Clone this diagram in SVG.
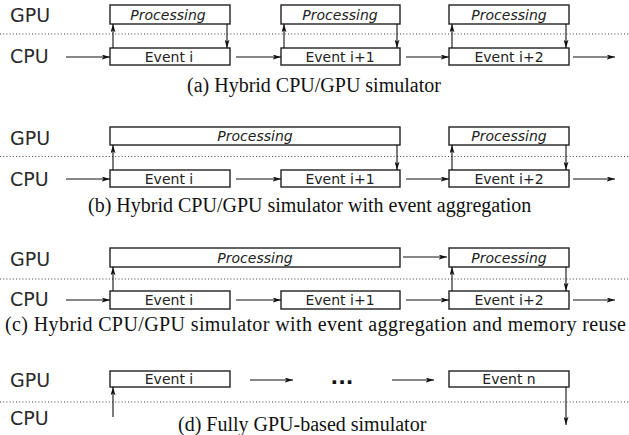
<svg xmlns="http://www.w3.org/2000/svg" width="629" height="435" viewBox="0 0 629 435">
  <style>
    .lane { font-family: "DejaVu Sans", Verdana, sans-serif; font-size: 19px; fill: #2a2a2a; }
    .box { fill: #fff; stroke: #222; stroke-width: 1.4; }
    .proc { font-family: "DejaVu Sans", Verdana, sans-serif; font-size: 14px; font-style: italic; fill: #222; text-anchor: middle; }
    .evt { font-family: "DejaVu Sans", Verdana, sans-serif; font-size: 14px; fill: #222; text-anchor: middle; }
    .sep { stroke: #444; stroke-width: 1.2; stroke-dasharray: 1 2.2; }
    .arr { stroke: #111; stroke-width: 1.1; fill: none; marker-end: url(#head); }
    .cap { font-family: "Liberation Serif", "Times New Roman", serif; font-size: 20px; fill: #111; }
  </style>
  <defs>
    <marker id="head" viewBox="0 0 10 6" refX="10" refY="3" markerWidth="8.5" markerHeight="5" markerUnits="userSpaceOnUse" orient="auto">
      <path d="M0,0 L10,3 L0,6 L2.5,3 z" fill="#111"/>
    </marker>
  </defs>

  <!-- lane labels and separators -->
  <g id="lanes">
    <text class="lane" x="10" y="22">GPU</text>
    <text class="lane" x="10" y="63">CPU</text>
    <line class="sep" x1="0" y1="34" x2="629" y2="34"/>
    <text class="lane" x="10" y="145">GPU</text>
    <text class="lane" x="10" y="186">CPU</text>
    <line class="sep" x1="0" y1="156.5" x2="629" y2="156.5"/>
    <text class="lane" x="10" y="266">GPU</text>
    <text class="lane" x="10" y="306">CPU</text>
    <line class="sep" x1="0" y1="279" x2="629" y2="279"/>
    <text class="lane" x="10" y="387">GPU</text>
    <text class="lane" x="10" y="425">CPU</text>
    <line class="sep" x1="0" y1="402" x2="629" y2="402"/>
  </g>

  <!-- (a) hybrid simulator -->
  <g id="a-proc1"><rect class="box" x="110" y="5" width="120" height="19"/><text class="proc" x="168" y="20">Processing</text></g>
  <g id="a-proc2"><rect class="box" x="281" y="5" width="119" height="19"/><text class="proc" x="340" y="20">Processing</text></g>
  <g id="a-proc3"><rect class="box" x="449" y="5" width="120" height="19"/><text class="proc" x="509" y="20">Processing</text></g>
  <g id="a-evt1"><rect class="box" x="110" y="48" width="120" height="17"/><text class="evt" x="169" y="62">Event i</text></g>
  <g id="a-evt2"><rect class="box" x="281" y="48" width="119" height="17"/><text class="evt" x="340" y="62">Event i+1</text></g>
  <g id="a-evt3"><rect class="box" x="449" y="48" width="120" height="17"/><text class="evt" x="509" y="62">Event i+2</text></g>

  <!-- (b) with event aggregation -->
  <g id="b-proc1"><rect class="box" x="110" y="127" width="290" height="18"/><text class="proc" x="255" y="141">Processing</text></g>
  <g id="b-proc2"><rect class="box" x="449" y="127" width="120" height="18"/><text class="proc" x="509" y="141">Processing</text></g>
  <g id="b-evt1"><rect class="box" x="110" y="170" width="120" height="17"/><text class="evt" x="169" y="184">Event i</text></g>
  <g id="b-evt2"><rect class="box" x="281" y="170" width="119" height="17"/><text class="evt" x="340" y="184">Event i+1</text></g>
  <g id="b-evt3"><rect class="box" x="449" y="170" width="120" height="17"/><text class="evt" x="509" y="184">Event i+2</text></g>

  <!-- (c) with event aggregation and memory reuse -->
  <g id="c-proc1"><rect class="box" x="110" y="248" width="290" height="19"/><text class="proc" x="255" y="263">Processing</text></g>
  <g id="c-proc2"><rect class="box" x="449" y="248" width="120" height="19"/><text class="proc" x="509" y="263">Processing</text></g>
  <g id="c-evt1"><rect class="box" x="110" y="291" width="120" height="18"/><text class="evt" x="169" y="305">Event i</text></g>
  <g id="c-evt2"><rect class="box" x="281" y="291" width="119" height="18"/><text class="evt" x="340" y="305">Event i+1</text></g>
  <g id="c-evt3"><rect class="box" x="449" y="291" width="120" height="18"/><text class="evt" x="509" y="305">Event i+2</text></g>

  <!-- (d) fully GPU-based -->
  <g id="d-evt1"><rect class="box" x="110" y="371" width="120" height="16"/><text class="evt" x="169" y="384">Event i</text></g>
  <g id="d-dots"><text x="342" y="384" font-family="DejaVu Sans, sans-serif" font-size="20" font-weight="bold" text-anchor="middle" fill="#111">...</text></g>
  <g id="d-evtn"><rect class="box" x="449" y="371" width="120" height="16"/><text class="evt" x="509" y="384">Event n</text></g>

  <!-- connectors -->
  <g id="connectors">
    <!-- (a) -->
    <line class="arr" x1="66" y1="57" x2="110" y2="57"/>
    <line class="arr" x1="236" y1="57" x2="281" y2="57"/>
    <line class="arr" x1="406" y1="57" x2="449" y2="57"/>
    <line class="arr" x1="573" y1="57" x2="615" y2="57"/>
    <line class="arr" x1="113" y1="48" x2="113" y2="24"/>
    <line class="arr" x1="227" y1="24" x2="227" y2="48"/>
    <line class="arr" x1="284" y1="48" x2="284" y2="24"/>
    <line class="arr" x1="397" y1="24" x2="397" y2="48"/>
    <line class="arr" x1="452" y1="48" x2="452" y2="24"/>
    <line class="arr" x1="566" y1="24" x2="566" y2="48"/>
    <!-- (b) -->
    <line class="arr" x1="66" y1="179" x2="110" y2="179"/>
    <line class="arr" x1="236" y1="179" x2="281" y2="179"/>
    <line class="arr" x1="406" y1="179" x2="449" y2="179"/>
    <line class="arr" x1="573" y1="179" x2="615" y2="179"/>
    <line class="arr" x1="113" y1="170" x2="113" y2="145"/>
    <line class="arr" x1="397" y1="145" x2="397" y2="170"/>
    <line class="arr" x1="452" y1="170" x2="452" y2="145"/>
    <line class="arr" x1="566" y1="145" x2="566" y2="170"/>
    <!-- (c) -->
    <line class="arr" x1="66" y1="300" x2="110" y2="300"/>
    <line class="arr" x1="236" y1="300" x2="281" y2="300"/>
    <line class="arr" x1="406" y1="300" x2="449" y2="300"/>
    <line class="arr" x1="573" y1="300" x2="615" y2="300"/>
    <line class="arr" x1="403" y1="257" x2="447" y2="257"/>
    <line class="arr" x1="113" y1="291" x2="113" y2="267"/>
    <line class="arr" x1="452" y1="291" x2="452" y2="267"/>
    <line class="arr" x1="566" y1="267" x2="566" y2="291"/>
    <!-- (d) -->
    <line class="arr" x1="250" y1="380" x2="293" y2="380"/>
    <line class="arr" x1="392" y1="380" x2="434" y2="380"/>
    <line class="arr" x1="113" y1="417" x2="113" y2="387"/>
    <line class="arr" x1="566" y1="387" x2="566" y2="425"/>
  </g>

  <!-- captions -->
  <g id="captions">
    <text class="cap" x="187" y="92">(a) Hybrid CPU/GPU simulator</text>
    <text class="cap" x="88" y="212">(b) Hybrid CPU/GPU simulator with event aggregation</text>
    <text class="cap" x="5" y="331" textLength="621" lengthAdjust="spacing">(c) Hybrid CPU/GPU simulator with event aggregation and memory reuse</text>
    <text class="cap" x="178" y="431">(d) Fully GPU-based simulator</text>
  </g>
</svg>
